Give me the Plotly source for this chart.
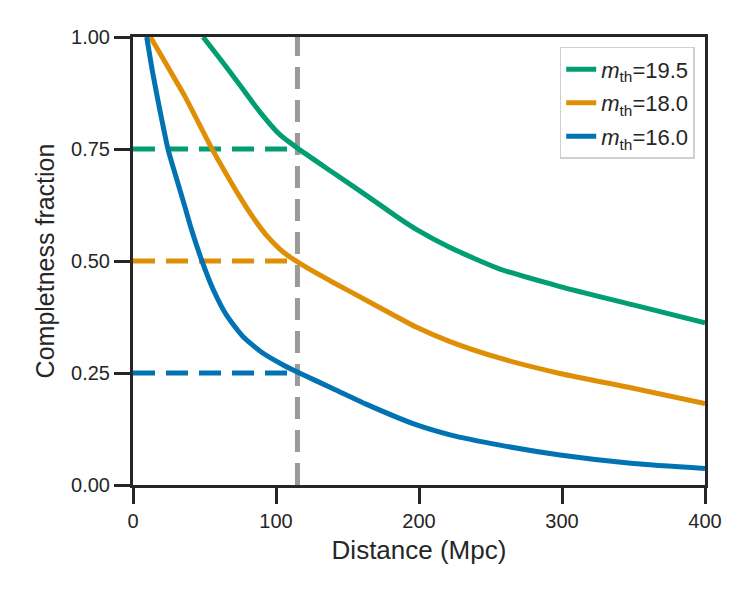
import plotly.graph_objects as go

# Curves: distance (Mpc) and completeness fraction
d_195 = [49, 60.7, 74.7, 88.7, 102.7, 116.7, 140, 163.4, 186.7, 198.4, 221.7, 256.6, 298.6, 349.8, 400]
c_195 = [1.0, 0.952, 0.893, 0.833, 0.782, 0.748, 0.697, 0.646, 0.594, 0.570, 0.530, 0.482, 0.443, 0.402, 0.362]

d_180 = [12.2, 24, 36.2, 54.8, 65.4, 74.7, 84, 93.4, 105, 119, 140, 163.4, 198.4, 221.7, 256.6, 298.6, 349.8, 400]
c_180 = [1.0, 0.935, 0.868, 0.753, 0.693, 0.643, 0.597, 0.557, 0.520, 0.490, 0.452, 0.412, 0.352, 0.320, 0.283, 0.249, 0.216, 0.182]

d_160 = [9.6, 13.5, 17.6, 24.6, 31, 36.2, 41, 48, 56, 65.4, 77, 91, 105, 119, 140, 163.4, 198.4, 221.7, 256.6, 298.6, 349.8, 400]
c_160 = [1.0, 0.925, 0.856, 0.748, 0.678, 0.622, 0.569, 0.502, 0.437, 0.379, 0.331, 0.294, 0.268, 0.246, 0.215, 0.180, 0.134, 0.112, 0.089, 0.067, 0.048, 0.037]

labels = ["<i>m</i><sub>th</sub>=19.5", "<i>m</i><sub>th</sub>=18.0", "<i>m</i><sub>th</sub>=16.0"]
colors = ["#029e73", "#de8f05", "#0173b2"]

# Reference lines
threshold_distance = 115
threshold_fracs = [0.75, 0.50, 0.25]

x_ticks = [0, 100, 200, 300, 400]
y_ticks = [0.0, 0.25, 0.5, 0.75, 1.0]

fig = go.Figure()

# dashed horizontal reference lines
for frac, col in zip(threshold_fracs, colors):
    fig.add_trace(go.Scatter(x=[0, threshold_distance], y=[frac, frac], mode="lines",
                             line=dict(color=col, width=5, dash="22px,11px"),
                             showlegend=False, hoverinfo="skip"))

# vertical gray dashed line
fig.add_trace(go.Scatter(x=[threshold_distance, threshold_distance], y=[0, 1.0], mode="lines",
                         line=dict(color="#9a9a9a", width=5, dash="22px,11px"),
                         showlegend=False, hoverinfo="skip"))

for i, (dx, cy, lab, col) in enumerate(zip([d_195, d_180, d_160], [c_195, c_180, c_160], labels, colors)):
    fig.add_trace(go.Scatter(x=dx, y=cy, mode="lines", name=lab, legendgroup=f"g{i}",
                             line=dict(color=col, width=5, shape="spline", smoothing=0.6)))

axis_common = dict(showline=True, linecolor="#262626", linewidth=3, mirror=True,
                   ticks="outside", ticklen=16, tickwidth=3, tickcolor="#262626",
                   showgrid=False, zeroline=False,
                   tickfont=dict(size=20, color="#262626"))

fig.update_xaxes(range=[0, 400], tickvals=x_ticks, ticktext=[str(v) for v in x_ticks],
                 title=dict(text="Distance (Mpc)", font=dict(size=26, color="#262626"), standoff=10),
                 **axis_common)
fig.update_yaxes(range=[0, 1.0], tickvals=y_ticks, ticktext=[f"{v:.2f}" for v in y_ticks],
                 title=dict(text="Completness fraction", font=dict(size=25, color="#262626"), standoff=10),
                 **axis_common)

fig.update_layout(
    width=750, height=600,
    margin=dict(l=133, r=45, t=37, b=115),
    paper_bgcolor="white", plot_bgcolor="white",
    font=dict(family="Liberation Sans, DejaVu Sans, sans-serif", color="#262626"),
    legend=dict(x=0.982, y=0.978, xanchor="right", yanchor="top",
                bgcolor="white", bordercolor="#d0d0d0", borderwidth=1.5,
                font=dict(size=22, color="#262626"), tracegroupgap=2),
)

fig.write_html("out.html")
